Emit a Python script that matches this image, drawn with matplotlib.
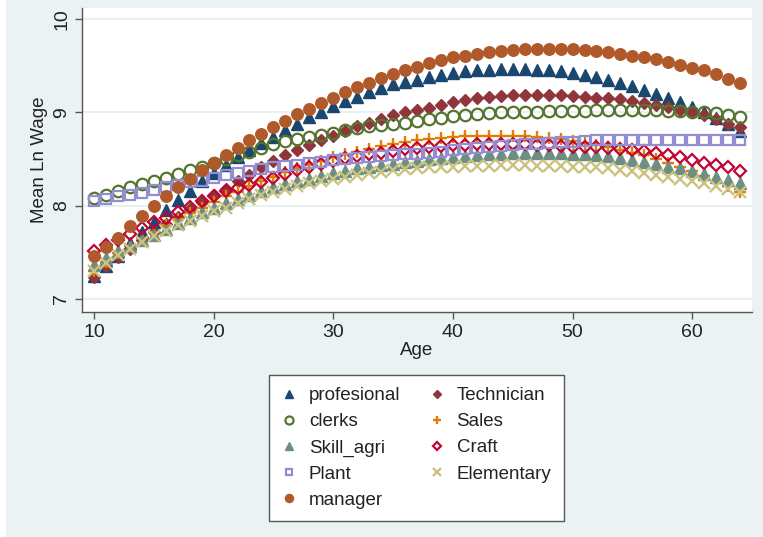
import numpy as np
import matplotlib
matplotlib.use("Agg")
import matplotlib.pyplot as plt
from matplotlib.patches import Rectangle

plt.rcParams['font.family'] = ['Liberation Sans', 'DejaVu Sans']

age = list(range(10, 65))

profesional = [7.25, 7.35, 7.46, 7.60, 7.72, 7.83, 7.95, 8.06, 8.16, 8.26,
               8.35, 8.44, 8.52, 8.60, 8.67, 8.74, 8.81, 8.88, 8.95, 9.01,
               9.07, 9.12, 9.17, 9.22, 9.26, 9.30, 9.33, 9.35, 9.38, 9.40,
               9.42, 9.44, 9.45, 9.46, 9.47, 9.47, 9.47, 9.46, 9.45, 9.44,
               9.42, 9.40, 9.38, 9.35, 9.32, 9.28, 9.24, 9.20, 9.15, 9.11,
               9.06, 9.00, 8.94, 8.88, 8.80]
technician = [7.24, 7.35, 7.45, 7.54, 7.63, 7.72, 7.80, 7.88, 7.96, 8.04,
              8.11, 8.18, 8.26, 8.33, 8.41, 8.48, 8.54, 8.60, 8.65, 8.70,
              8.75, 8.80, 8.85, 8.89, 8.93, 8.97, 9.00, 9.03, 9.05, 9.08,
              9.11, 9.13, 9.15, 9.17, 9.18, 9.19, 9.19, 9.19, 9.19, 9.19,
              9.18, 9.17, 9.16, 9.15, 9.14, 9.12, 9.10, 9.08, 9.06, 9.03,
              9.00, 8.97, 8.93, 8.88, 8.84]
clerks = [8.08, 8.12, 8.16, 8.20, 8.23, 8.26, 8.30, 8.34, 8.38, 8.42,
          8.46, 8.50, 8.54, 8.58, 8.62, 8.66, 8.69, 8.72, 8.74, 8.76,
          8.78, 8.81, 8.83, 8.85, 8.86, 8.88, 8.89, 8.91, 8.93, 8.94,
          8.96, 8.97, 8.98, 8.99, 9.00, 9.00, 9.01, 9.01, 9.02, 9.02,
          9.02, 9.02, 9.03, 9.03, 9.03, 9.03, 9.03, 9.03, 9.02, 9.02,
          9.01, 9.00, 8.99, 8.97, 8.95]
sales = [7.30, 7.40, 7.49, 7.57, 7.65, 7.72, 7.79, 7.86, 7.92, 7.98,
         8.04, 8.10, 8.15, 8.21, 8.26, 8.31, 8.36, 8.40, 8.44, 8.48,
         8.52, 8.55, 8.58, 8.61, 8.64, 8.66, 8.68, 8.70, 8.72, 8.73,
         8.74, 8.75, 8.75, 8.75, 8.75, 8.75, 8.75, 8.74, 8.73, 8.71,
         8.69, 8.67, 8.65, 8.63, 8.60, 8.57, 8.54, 8.50, 8.46, 8.41,
         8.37, 8.32, 8.27, 8.21, 8.15]
skill_agri = [7.36, 7.44, 7.51, 7.57, 7.63, 7.69, 7.75, 7.81, 7.87, 7.93,
              7.98, 8.03, 8.07, 8.12, 8.16, 8.20, 8.23, 8.26, 8.29, 8.32,
              8.35, 8.37, 8.40, 8.42, 8.44, 8.45, 8.47, 8.48, 8.50, 8.51,
              8.52, 8.53, 8.54, 8.55, 8.55, 8.56, 8.56, 8.56, 8.56, 8.56,
              8.55, 8.55, 8.54, 8.53, 8.51, 8.49, 8.47, 8.45, 8.42, 8.40,
              8.37, 8.34, 8.31, 8.28, 8.24]
craft = [7.51, 7.58, 7.63, 7.70, 7.76, 7.82, 7.87, 7.93, 7.99, 8.05,
         8.10, 8.16, 8.19, 8.22, 8.25, 8.30, 8.34, 8.38, 8.42, 8.45,
         8.48, 8.51, 8.53, 8.55, 8.57, 8.59, 8.61, 8.62, 8.63, 8.64,
         8.65, 8.65, 8.66, 8.66, 8.66, 8.66, 8.66, 8.65, 8.65, 8.64,
         8.63, 8.63, 8.63, 8.62, 8.61, 8.60, 8.59, 8.57, 8.54, 8.52,
         8.49, 8.46, 8.44, 8.41, 8.37]
plant = [8.05, 8.07, 8.10, 8.12, 8.14, 8.17, 8.20, 8.22, 8.25, 8.27,
         8.30, 8.33, 8.35, 8.37, 8.39, 8.41, 8.43, 8.44, 8.46, 8.47,
         8.49, 8.50, 8.51, 8.52, 8.53, 8.54, 8.55, 8.55, 8.57, 8.58,
         8.60, 8.61, 8.62, 8.63, 8.64, 8.65, 8.66, 8.66, 8.67, 8.68,
         8.68, 8.69, 8.70, 8.70, 8.70, 8.70, 8.70, 8.70, 8.70, 8.70,
         8.70, 8.70, 8.70, 8.70, 8.70]
elementary = [7.30, 7.39, 7.47, 7.54, 7.61, 7.67, 7.73, 7.79, 7.84, 7.89,
              7.94, 7.98, 8.03, 8.07, 8.11, 8.15, 8.18, 8.21, 8.24, 8.27,
              8.29, 8.31, 8.33, 8.35, 8.36, 8.38, 8.39, 8.40, 8.41, 8.42,
              8.42, 8.43, 8.43, 8.43, 8.44, 8.44, 8.44, 8.43, 8.43, 8.43,
              8.42, 8.42, 8.41, 8.40, 8.38, 8.37, 8.35, 8.33, 8.31, 8.29,
              8.27, 8.24, 8.21, 8.18, 8.15]
manager = [7.46, 7.56, 7.65, 7.78, 7.89, 8.00, 8.10, 8.20, 8.29, 8.38,
           8.46, 8.54, 8.62, 8.70, 8.77, 8.84, 8.91, 8.98, 9.04, 9.10,
           9.16, 9.22, 9.27, 9.32, 9.37, 9.41, 9.45, 9.49, 9.53, 9.56,
           9.59, 9.61, 9.63, 9.65, 9.66, 9.67, 9.68, 9.68, 9.68, 9.68,
           9.68, 9.67, 9.66, 9.65, 9.63, 9.61, 9.59, 9.57, 9.54, 9.51,
           9.48, 9.45, 9.41, 9.36, 9.32]

bg = '#EAF2F3'

# (label, values, marker, color, filled)
series = [
    ('profesional', profesional, '^', '#1A476F', True),
    ('Technician', technician, 'D', '#90353B', True),
    ('clerks', clerks, 'o', '#55752F', False),
    ('Sales', sales, '+', '#E37E00', True),
    ('Skill_agri', skill_agri, '^', '#6E8E84', True),
    ('Craft', craft, 'D', '#C10534', False),
    ('Plant', plant, 's', '#938DD2', False),
    ('Elementary', elementary, 'x', '#CAC27E', True),
    ('manager', manager, 'o', '#B0592A', True),
]
msize = {'o': 8.3, '^': 8.3, 'D': 6.3, 's': 7.0, '+': 9, 'x': 8}

fig = plt.figure(figsize=(7.63, 5.37), dpi=100, facecolor=bg)
fig.patches.append(Rectangle((0, 0), 6 / 763, 1, transform=fig.transFigure,
                             facecolor='white', edgecolor='none', zorder=-1))
ax = fig.add_axes([82 / 763, 1 - 312 / 537, 670 / 763, 304 / 537])
ax.set_facecolor('white')

handles = {}
for label, vals, mk, col, filled in series:
    if mk in ('+', 'x'):
        h, = ax.plot(age, vals, linestyle='none', marker=mk,
                     markersize=msize[mk], markeredgewidth=1.7, color=col,
                     label=label)
    elif filled:
        h, = ax.plot(age, vals, linestyle='none', marker=mk,
                     markersize=msize[mk], color=col, markeredgecolor=col,
                     label=label)
    else:
        h, = ax.plot(age, vals, linestyle='none', marker=mk,
                     markersize=msize[mk], markerfacecolor='none',
                     markeredgecolor=col, markeredgewidth=1.6, label=label)
    handles[label] = h

ax.set_xlim(9, 65)
ax.set_ylim(6.86, 10.12)
ax.set_xticks([10, 20, 30, 40, 50, 60])
ax.set_yticks([7, 8, 9, 10])
ax.grid(axis='y', color='#E4EDEF', linewidth=1.2)
ax.set_axisbelow(True)

for side in ('top', 'right'):
    ax.spines[side].set_visible(False)
for side in ('left', 'bottom'):
    ax.spines[side].set_color('#555555')
    ax.spines[side].set_linewidth(1.0)

ax.tick_params(axis='both', direction='out', length=5, width=1,
               color='#555555', labelsize=14, labelcolor='#222222')
for t in ax.get_yticklabels():
    t.set_rotation(90)
    t.set_va('center')

ax.set_xlabel('Age', fontsize=13.5, color='#222222', labelpad=1)
ax.set_ylabel('Mean Ln Wage', fontsize=13.5, color='#222222', labelpad=4)

order = ['profesional', 'clerks', 'Skill_agri', 'Plant', 'manager',
         'Technician', 'Sales', 'Craft', 'Elementary']
leg = fig.legend([handles[k] for k in order], order, ncol=2,
                 loc='center', bbox_to_anchor=(416 / 763, 1 - 448 / 537),
                 fontsize=13.5, frameon=True, fancybox=False, numpoints=1,
                 markerscale=0.7, handlelength=0.9, handletextpad=0.6,
                 columnspacing=1.5, labelspacing=0.48, borderpad=0.65)
leg.get_frame().set_edgecolor('#555555')
leg.get_frame().set_linewidth(1.0)
leg.get_frame().set_facecolor('white')
leg.get_frame().set_alpha(1)
for t in leg.get_texts():
    t.set_color('#222222')

fig.savefig('out.png', dpi=100, facecolor=bg)
